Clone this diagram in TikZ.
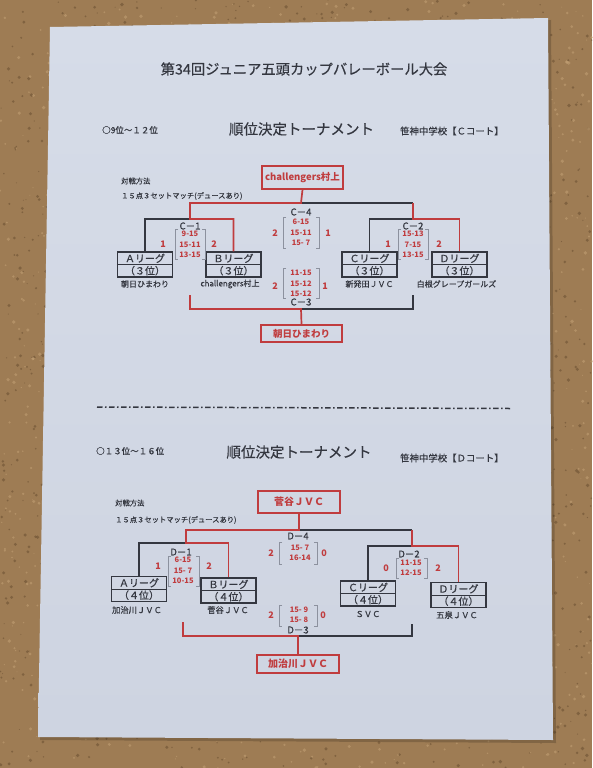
\documentclass[tikz,border=0pt]{standalone}
\usepackage{fontspec}
\setmainfont{Noto Sans CJK JP}
\newfontfamily\jpm{Noto Sans CJK JP}[FakeBold=0.5]
\usetikzlibrary{calc}
\definecolor{cork}{RGB}{158,124,84}
\definecolor{corkd}{RGB}{100,74,46}
\definecolor{corkl}{RGB}{196,162,118}
\definecolor{paper}{RGB}{206,212,225}
\definecolor{paperl}{RGB}{214,220,232}
\definecolor{ink}{RGB}{52,55,64}
\definecolor{rd}{RGB}{192,60,62}
\definecolor{brk}{RGB}{140,145,158}
\newcommand{\fs}[1]{\fontsize{#1}{#1}\selectfont}
\tikzset{
  blk/.style={draw=ink, line width=1.3pt},
  redl/.style={draw=rd, line width=1.7pt},
  tbox/.style={draw=ink, line width=1.1pt, minimum width=55pt, minimum height=25pt, inner sep=0pt},
  rbox/.style={draw=rd, line width=1.7pt, inner sep=0pt, text=rd, font=\bfseries\fs{9.5}},
  txt/.style={inner sep=0pt, text=ink},
  lbl/.style={inner sep=0pt, text=ink, font=\jpm\fs{9.5}},
  nm/.style={inner sep=0pt, text=ink, font=\jpm\fs{8}},
  mt/.style={inner sep=0pt, text=ink, font=\jpm\fs{8.5}},
  sc/.style={inner sep=0pt, text=rd, font=\bfseries\fs{7.5}},
  pt/.style={inner sep=0pt, text=rd, font=\bfseries\fs{9}},
  brl/.style={draw=brk, line width=0.6pt}
}
\newcommand{\scorebr}[4]{%
  \draw[brl] (#1+3,#3) -- (#1,#3) -- (#1,#4) -- (#1+3,#4);
  \draw[brl] (#2-3,#3) -- (#2,#3) -- (#2,#4) -- (#2-3,#4);}
\newcommand{\teambox}[5]{% name, x, y, top text, bottom text
  \node[tbox] (#1) at (#2,#3) {};
  \draw[ink, line width=1pt] (#1.west) -- (#1.east);
  \node[txt, font=\jpm\fs{10}] (#1t) at ($(#1.center)+(0,-6.2)$) {#4};
  \node[txt, font=\jpm\fs{10}] (#1b) at ($(#1.center)+(0,6.2)$) {#5};}
\begin{document}
\begin{tikzpicture}[x=1pt,y=-1pt]
\useasboundingbox (0,0) rectangle (592,768);
% cork background
\fill[cork] (0,0) rectangle (592,768);
\pgfmathsetseed{11}
\foreach \i in {1,...,1600}{
  \pgfmathsetmacro\xx{rnd*592}\pgfmathsetmacro\yy{rnd*768}\pgfmathsetmacro\rr{0.5+rnd*1.4}
  \fill[corkd, opacity=0.5] (\xx,\yy) circle (\rr);
}
\foreach \i in {1,...,1400}{
  \pgfmathsetmacro\xx{rnd*592}\pgfmathsetmacro\yy{rnd*768}\pgfmathsetmacro\rr{0.5+rnd*1.4}
  \fill[corkl, opacity=0.55] (\xx,\yy) circle (\rr);
}
% paper
\fill[black, opacity=0.18] (52,29) -- (551,20) -- (556,743) -- (40,740) -- cycle;
\shade[top color=paperl, bottom color=paper] (50,27) -- (548,18) -- (553,740) -- (38,737) -- cycle;

% ===== headings =====
\node[txt, font=\jpm\fs{14.3}] (title) at (304,69) {第34回ジュニア五頭カップバレーボール大会};
\node[mt, anchor=west] (rank1) at (102,130) {○9位～１２位};
\node[txt, font=\jpm\fs{14.5}] (head1) at (301.5,129) {順位決定トーナメント};
\node[txt, font=\jpm\fs{9.4}, anchor=west] (court1) at (400,131) {笹神中学校【Ｃコート】};
\node[txt, font=\jpm\fs{7.3}, anchor=west] (meth1) at (121,181) {対戦方法};
\node[txt, font=\jpm\fs{7.3}, anchor=west] (rule1) at (121,196) {１５点３セットマッチ(デュースあり)};

% ===== section 1 =====
\node[rbox, minimum width=81pt, minimum height=23pt] (W1) at (302.5,177.5) {challengers村上};
\node[rbox, minimum width=81pt, minimum height=17pt] (L1) at (301.5,333.5) {朝日ひまわり};
\teambox{A1}{145}{264.5}{Ａリーグ}{（３位）}
\teambox{B1}{233.5}{264.5}{Ｂリーグ}{（３位）}
\teambox{C1}{369.5}{264.5}{Ｃリーグ}{（３位）}
\teambox{D1}{459.5}{264.5}{Ｄリーグ}{（３位）}
\node[nm] (nA1) at (145,284) {朝日ひまわり};
\node[nm] (nB1) at (230,284) {challengers村上};
\node[nm] (nC1) at (369.5,284) {新発田ＪＶＣ};
\node[nm] (nD1) at (456.5,284) {白根グレープガールズ};

\coordinate (c1) at (190,219);
\coordinate (c2) at (413,219);
\coordinate (c4) at (301,203);
\coordinate (c3) at (301,309);
\coordinate (c3l) at (190,295);
\coordinate (c3r) at (413,295);

\draw[blk] (A1.north) |- (c1);
\draw[blk] (C1.north) |- (c2);
\draw[blk] (c2|-c4) -- (c4);
\draw[blk] (c3r) |- (c3);
\draw[redl] (B1.north) |- (c1) -- (c1|-c4) -- (c4) -- (W1.south);
\draw[redl] (D1.north) |- (c2) -- (c2|-c4);
\draw[redl] (c3l) |- (c3) -- (L1.north);

% C-1
\node[lbl] (m1) at (190,226) {C－1};
\scorebr{175}{205}{229}{259}
\node[sc] at (190,234) {9-15};
\node[sc] at (190,244.5) {15-11};
\node[sc] at (190,255) {13-15};
\node[pt] at (163,244) {1};
\node[pt] at (214,244) {2};
% C-4
\node[lbl] (m4) at (301,212) {C－4};
\scorebr{283}{319}{217}{248}
\node[sc] at (301,222) {6-15};
\node[sc] at (301,233) {15-11};
\node[sc] at (301,243) {15- 7};
\node[pt] at (275,233) {2};
\node[pt] at (328,233) {1};
% C-2
\node[lbl] (m2) at (413,226) {C－2};
\scorebr{398}{428}{229}{259}
\node[sc] at (413,234) {15-13};
\node[sc] at (413,244.5) {7-15};
\node[sc] at (413,255) {13-15};
\node[pt] at (388,244) {1};
\node[pt] at (439,244) {2};
% C-3
\scorebr{283}{319}{268}{298}
\node[sc] at (301,273) {11-15};
\node[sc] at (301,283.5) {15-12};
\node[sc] at (301,294) {15-12};
\node[pt] at (275,286) {2};
\node[pt] at (325,286) {1};
\node[lbl] (m3) at (301,302) {C－3};

% separator
\draw[ink, line width=1.5pt, dash pattern=on 5.5pt off 2.5pt on 1.5pt off 2.5pt] (97,407) -- (510,408.5);

% ===== section 2 =====
\node[mt, anchor=west] (rank2) at (96,451) {○１３位～１６位};
\node[txt, font=\jpm\fs{14.5}] (head2) at (299,452) {順位決定トーナメント};
\node[txt, font=\jpm\fs{9.4}, anchor=west] (court2) at (400,458) {笹神中学校【Ｄコート】};
\node[txt, font=\jpm\fs{7.3}, anchor=west] (meth2) at (115,503) {対戦方法};
\node[txt, font=\jpm\fs{7.3}, anchor=west] (rule2) at (115,520) {１５点３セットマッチ(デュースあり)};

\node[rbox, minimum width=82pt, minimum height=22pt, font=\bfseries\fs{10}] (W2) at (299,502) {菅谷ＪＶＣ};
\node[rbox, minimum width=82pt, minimum height=18pt, font=\bfseries\fs{10}] (L2) at (298,664) {加治川ＪＶＣ};
\teambox{A2}{139}{589}{Ａリーグ}{（４位）}
\teambox{B2}{228.5}{590.5}{Ｂリーグ}{（４位）}
\teambox{C2}{368}{593.5}{Ｃリーグ}{（４位）}
\teambox{D2}{458.5}{595}{Ｄリーグ}{（４位）}
\node[nm, font=\jpm\fs{8.3}] (nA2) at (137,610) {加治川ＪＶＣ};
\node[nm, font=\jpm\fs{8.3}] (nB2) at (228,610) {菅谷ＪＶＣ};
\node[nm, font=\jpm\fs{8.3}] (nC2) at (368,614) {ＳＶＣ};
\node[nm, font=\jpm\fs{8.3}] (nD2) at (457,615) {五泉ＪＶＣ};

\coordinate (d1) at (186,543);
\coordinate (d2) at (412,546);
\coordinate (d4) at (299,530);
\coordinate (d3) at (298,636);
\coordinate (d3l) at (183,622);
\coordinate (d3r) at (412,624);

\draw[blk] (A2.north) |- (d1);
\draw[blk] (C2.north) |- (d2);
\draw[blk] (d2|-d4) -- (d4);
\draw[blk] (d3r) |- (d3);
\draw[redl] (B2.north) |- (d1) -- (d1|-d4) -- (d4) -- (W2.south);
\draw[redl] (D2.north) |- (d2) -- (d2|-d4);
\draw[redl] (d3l) |- (d3) -- (L2.north);

% D-1
\node[lbl] (n1) at (181,552) {D－1};
\scorebr{168}{199}{556}{586}
\node[sc] at (183,560) {6-15};
\node[sc] at (183,570.5) {15- 7};
\node[sc] at (183,581) {10-15};
\node[pt] at (158,566) {1};
\node[pt] at (209,566) {2};
% D-4
\node[lbl] (n4) at (298,536) {D－4};
\scorebr{279}{317}{542}{564}
\node[sc] at (300,548) {15- 7};
\node[sc] at (300,558) {16-14};
\node[pt] at (271,553) {2};
\node[pt] at (324,553) {0};
% D-2
\node[lbl] (n2) at (409,554) {D－2};
\scorebr{396}{427}{558}{578}
\node[sc] at (411,563) {11-15};
\node[sc] at (411,573) {12-15};
\node[pt] at (386,568) {0};
\node[pt] at (438,568) {2};
% D-3
\scorebr{279}{317}{605}{626}
\node[sc] at (299,610) {15- 9};
\node[sc] at (299,620) {15- 8};
\node[pt] at (271,615) {2};
\node[pt] at (323,615) {0};
\node[lbl] (n3) at (298,630) {D－3};
\end{tikzpicture}
\end{document}
